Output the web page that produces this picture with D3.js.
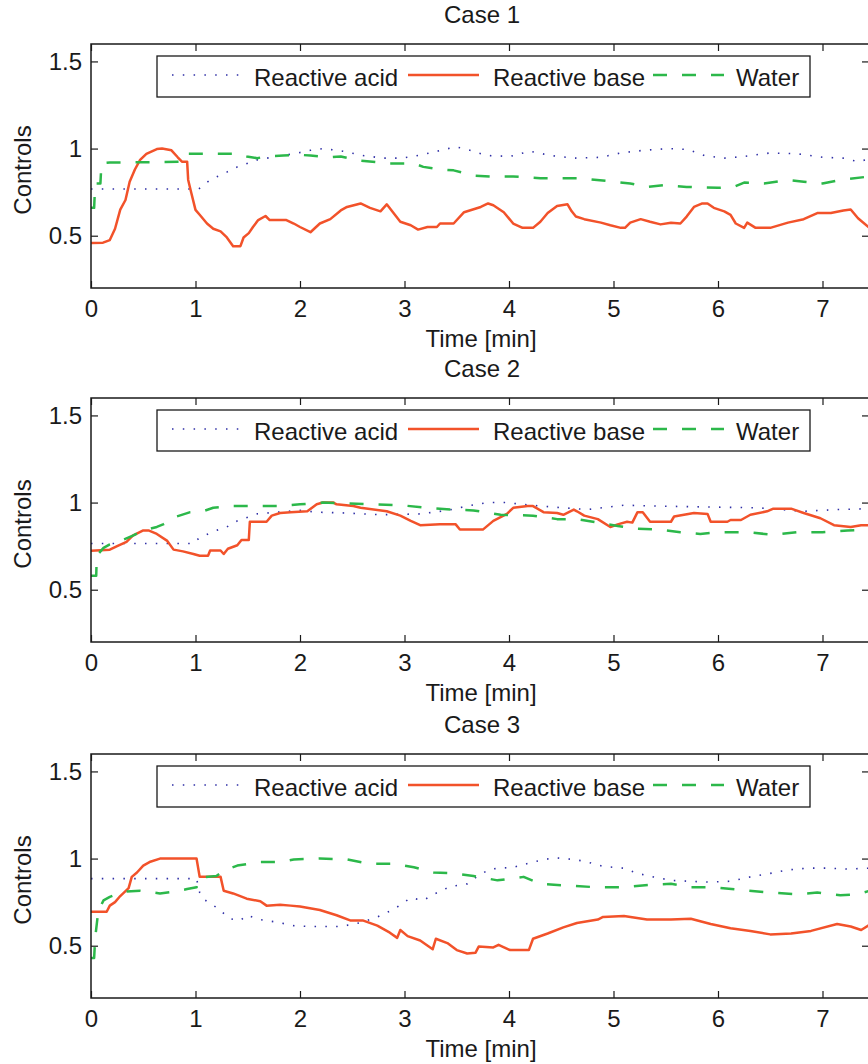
<!DOCTYPE html>
<html>
<head>
<meta charset="utf-8">
<script src="https://cdn.jsdelivr.net/npm/d3@7"></script>
<style>
  body { margin: 0; background: #fff; }
  svg { display: block; }
  text { font-family: "Liberation Sans", Arial, Helvetica, sans-serif; fill: #1a1a1a; }
</style>
</head>
<body>
<div id="chart"></div>
<script>
// ---- data ----
var caseNames = ["Case 1", "Case 2", "Case 3"];
var seriesNames = ["Reactive acid", "Reactive base", "Water"];
var xTicks = [0, 1, 2, 3, 4, 5, 6, 7];
var yTicks = [0.5, 1, 1.5];

// [time in min, control]
var case1Acid = [[0,0.768],[1.03,0.768],[1.14,0.82],[1.3,0.865],[1.4,0.895],[1.59,0.935],[1.78,0.955],[1.94,0.97],[2.1,0.99],[2.22,1.0],[2.41,0.985],[2.6,0.96],[2.8,0.945],[2.96,0.945],[3.09,0.955],[3.28,0.98],[3.49,1.01],[3.6,0.995],[3.79,0.96],[4.01,0.955],[4.2,0.985],[4.4,0.96],[4.62,0.945],[4.88,0.95],[5.07,0.975],[5.29,0.99],[5.52,1.0],[5.71,0.995],[5.87,0.96],[6.06,0.945],[6.25,0.955],[6.5,0.975],[6.76,0.97],[7.0,0.95],[7.2,0.945],[7.34,0.925],[7.45,0.94]];
var case1Base = [[0,0.458],[0.115,0.46],[0.18,0.475],[0.23,0.54],[0.28,0.65],[0.33,0.705],[0.37,0.81],[0.42,0.88],[0.47,0.935],[0.53,0.97],[0.63,0.997],[0.68,1.0],[0.77,0.99],[0.83,0.95],[0.87,0.925],[0.92,0.925],[0.93,0.82],[0.96,0.745],[1.0,0.648],[1.04,0.62],[1.11,0.57],[1.17,0.54],[1.24,0.525],[1.3,0.49],[1.36,0.44],[1.43,0.44],[1.46,0.49],[1.51,0.515],[1.55,0.55],[1.6,0.59],[1.67,0.613],[1.71,0.59],[1.87,0.59],[1.94,0.57],[2.0,0.55],[2.1,0.52],[2.19,0.57],[2.29,0.595],[2.39,0.645],[2.45,0.665],[2.58,0.685],[2.67,0.66],[2.77,0.64],[2.83,0.68],[2.96,0.58],[3.06,0.56],[3.13,0.535],[3.22,0.55],[3.31,0.55],[3.34,0.57],[3.47,0.57],[3.57,0.635],[3.73,0.665],[3.8,0.685],[3.85,0.675],[3.95,0.635],[4.04,0.57],[4.13,0.545],[4.23,0.545],[4.3,0.58],[4.37,0.63],[4.46,0.67],[4.56,0.68],[4.6,0.64],[4.64,0.61],[4.72,0.595],[4.88,0.575],[4.97,0.56],[5.07,0.545],[5.11,0.545],[5.16,0.575],[5.26,0.595],[5.35,0.58],[5.45,0.565],[5.55,0.575],[5.64,0.57],[5.7,0.61],[5.77,0.665],[5.85,0.685],[5.9,0.685],[5.96,0.66],[6.06,0.64],[6.12,0.62],[6.17,0.57],[6.25,0.545],[6.28,0.575],[6.36,0.545],[6.5,0.545],[6.67,0.575],[6.82,0.595],[6.95,0.63],[7.08,0.63],[7.2,0.645],[7.27,0.65],[7.34,0.6],[7.45,0.545]];
var case1Water = [[0,0.66],[0.03,0.66],[0.04,0.8],[0.09,0.8],[0.1,0.915],[0.18,0.92],[0.34,0.92],[0.88,0.925],[0.92,0.97],[1.43,0.97],[1.49,0.955],[1.59,0.945],[1.68,0.955],[1.84,0.96],[1.97,0.965],[2.1,0.96],[2.29,0.95],[2.39,0.955],[2.58,0.93],[2.86,0.915],[3.09,0.915],[3.18,0.895],[3.34,0.88],[3.47,0.875],[3.6,0.855],[3.66,0.845],[3.82,0.84],[4.04,0.84],[4.3,0.83],[4.68,0.83],[5.0,0.81],[5.16,0.8],[5.32,0.78],[5.48,0.79],[5.7,0.78],[6.0,0.775],[6.15,0.78],[6.25,0.805],[6.44,0.8],[6.67,0.82],[6.82,0.81],[7.0,0.8],[7.17,0.82],[7.45,0.84]];

var case2Acid = [[0,0.765],[0.98,0.765],[1.04,0.8],[1.2,0.84],[1.3,0.86],[1.4,0.895],[1.59,0.935],[1.78,0.945],[2.0,0.955],[2.16,0.945],[2.45,0.94],[2.77,0.93],[3.15,0.935],[3.41,0.955],[3.6,0.98],[3.79,1.0],[3.98,1.0],[4.2,0.985],[4.52,0.97],[4.75,0.96],[5.1,0.985],[5.42,0.98],[5.87,0.975],[6.38,0.97],[6.82,0.95],[7.14,0.96],[7.45,0.965]];
var case2Base = [[0,0.724],[0.18,0.73],[0.25,0.75],[0.34,0.775],[0.4,0.81],[0.5,0.84],[0.55,0.84],[0.63,0.82],[0.73,0.78],[0.79,0.73],[0.88,0.72],[0.98,0.705],[1.04,0.695],[1.12,0.695],[1.14,0.725],[1.24,0.725],[1.27,0.705],[1.31,0.735],[1.4,0.755],[1.44,0.785],[1.51,0.785],[1.52,0.89],[1.68,0.89],[1.73,0.925],[1.81,0.94],[1.91,0.945],[2.07,0.95],[2.16,0.99],[2.22,1.0],[2.32,1.0],[2.35,0.99],[2.51,0.98],[2.58,0.97],[2.83,0.95],[2.96,0.925],[3.06,0.895],[3.15,0.87],[3.34,0.875],[3.49,0.875],[3.53,0.845],[3.75,0.845],[3.85,0.895],[3.98,0.935],[4.04,0.97],[4.18,0.98],[4.23,0.98],[4.33,0.945],[4.46,0.94],[4.52,0.93],[4.62,0.96],[4.65,0.95],[4.72,0.925],[4.85,0.905],[4.97,0.86],[5.04,0.875],[5.13,0.89],[5.18,0.885],[5.23,0.945],[5.28,0.945],[5.35,0.89],[5.55,0.89],[5.58,0.92],[5.77,0.94],[5.9,0.935],[5.93,0.89],[6.09,0.89],[6.12,0.9],[6.22,0.9],[6.31,0.93],[6.47,0.95],[6.53,0.965],[6.7,0.965],[6.82,0.94],[6.98,0.91],[7.11,0.87],[7.27,0.86],[7.37,0.87],[7.45,0.87]];
var case2Water = [[0,0.58],[0.05,0.58],[0.055,0.695],[0.12,0.74],[0.18,0.76],[0.28,0.78],[0.4,0.81],[0.5,0.84],[0.63,0.86],[0.69,0.875],[0.82,0.92],[0.95,0.945],[1.07,0.95],[1.17,0.97],[1.36,0.98],[1.78,0.98],[2.0,0.99],[2.22,1.0],[2.45,0.995],[2.7,0.99],[2.96,0.985],[3.22,0.97],[3.44,0.96],[3.66,0.955],[3.92,0.93],[4.23,0.925],[4.46,0.905],[4.65,0.905],[4.9,0.88],[5.04,0.865],[5.23,0.85],[5.45,0.845],[5.64,0.83],[5.83,0.82],[6.02,0.83],[6.28,0.83],[6.53,0.815],[6.76,0.83],[7.0,0.83],[7.24,0.84],[7.45,0.845]];

var case3Acid = [[0,0.885],[1.01,0.885],[1.04,0.805],[1.07,0.77],[1.2,0.72],[1.33,0.655],[1.43,0.645],[1.49,0.675],[1.62,0.65],[1.78,0.635],[1.94,0.615],[2.1,0.61],[2.39,0.61],[2.58,0.632],[2.74,0.665],[2.9,0.71],[3.06,0.775],[3.18,0.76],[3.28,0.795],[3.44,0.84],[3.6,0.855],[3.7,0.9],[3.82,0.94],[4.04,0.95],[4.23,0.98],[4.43,1.005],[4.62,0.995],[4.72,0.985],[4.9,0.955],[5.1,0.945],[5.23,0.915],[5.38,0.895],[5.55,0.875],[5.71,0.87],[5.93,0.865],[6.12,0.87],[6.31,0.895],[6.5,0.915],[6.67,0.935],[6.86,0.945],[7.05,0.945],[7.24,0.94],[7.45,0.945]];
var case3Base = [[0,0.695],[0.15,0.695],[0.18,0.73],[0.23,0.75],[0.28,0.785],[0.36,0.83],[0.39,0.895],[0.44,0.92],[0.5,0.96],[0.56,0.98],[0.66,1.0],[1.01,1.0],[1.04,0.895],[1.24,0.895],[1.27,0.815],[1.36,0.8],[1.49,0.77],[1.62,0.755],[1.68,0.73],[1.81,0.735],[1.91,0.73],[2.0,0.725],[2.19,0.705],[2.35,0.675],[2.48,0.645],[2.6,0.645],[2.74,0.615],[2.86,0.575],[2.93,0.545],[2.96,0.59],[3.03,0.555],[3.15,0.53],[3.27,0.48],[3.3,0.54],[3.41,0.515],[3.5,0.475],[3.6,0.455],[3.68,0.46],[3.71,0.495],[3.85,0.49],[3.9,0.505],[4.01,0.475],[4.19,0.475],[4.23,0.54],[4.37,0.57],[4.52,0.605],[4.65,0.63],[4.85,0.65],[4.9,0.665],[5.1,0.67],[5.32,0.65],[5.55,0.65],[5.74,0.655],[5.93,0.625],[6.12,0.6],[6.31,0.585],[6.5,0.565],[6.7,0.57],[6.89,0.585],[7.14,0.625],[7.27,0.61],[7.37,0.59],[7.45,0.62]];
var case3Water = [[0,0.43],[0.03,0.43],[0.04,0.545],[0.07,0.7],[0.12,0.76],[0.18,0.78],[0.31,0.81],[0.47,0.815],[0.6,0.805],[0.66,0.8],[0.79,0.81],[0.92,0.825],[1.01,0.835],[1.04,0.89],[1.2,0.9],[1.27,0.93],[1.4,0.96],[1.62,0.98],[1.81,0.98],[1.94,0.995],[2.19,1.0],[2.45,0.995],[2.67,0.97],[2.9,0.97],[3.09,0.95],[3.28,0.92],[3.47,0.915],[3.66,0.9],[3.89,0.875],[4.14,0.895],[4.3,0.855],[4.56,0.845],[4.85,0.835],[5.07,0.835],[5.35,0.85],[5.55,0.855],[5.74,0.835],[5.96,0.835],[6.22,0.82],[6.5,0.805],[6.76,0.795],[6.95,0.805],[7.17,0.79],[7.34,0.795],[7.45,0.815]];

var caseData = [
  [case1Acid, case1Base, case1Water],
  [case2Acid, case2Base, case2Water],
  [case3Acid, case3Base, case3Water]
];

// ---- layout / style ----
var W = 868, H = 1064;
var left = 91, right = 869;
var tops = [44, 398, 754], ph = 244;
var fs = 24;
var styles = [
  {color: "#2e2ea6", width: 1.6, dash: "1.5,9.3"},
  {color: "#f2522a", width: 2.5, dash: null},
  {color: "#2cb84a", width: 2.5, dash: "14,15"}
];

var svg = d3.select("#chart").append("svg")
  .attr("width", W)
  .attr("height", H);

var x = d3.scaleLinear().domain([0, 7.445]).range([left, right]);

caseNames.forEach(function(name, i) {
  var top = tops[i], bottom = top + ph;
  var y = d3.scaleLinear().domain([0.2, 1.6]).range([bottom, top]);
  var g = svg.append("g");

  // data lines
  var line = d3.line()
    .x(function(d) { return x(d[0]); })
    .y(function(d) { return y(d[1]); });

  caseData[i].forEach(function(ser, j) {
    g.append("path")
      .datum(ser)
      .attr("fill", "none")
      .attr("stroke", styles[j].color)
      .attr("stroke-width", styles[j].width)
      .attr("stroke-dasharray", styles[j].dash)
      .attr("stroke-linejoin", "round")
      .attr("d", line);
  });

  // axes, ticks pointing inward
  var xb = g.append("g").attr("transform", "translate(0," + bottom + ")")
    .call(d3.axisBottom(x).tickValues(xTicks).tickFormat(d3.format("d")).tickSize(-7).tickSizeOuter(0).tickPadding(12));
  var xt = g.append("g").attr("transform", "translate(0," + top + ")")
    .call(d3.axisTop(x).tickValues(xTicks).tickFormat("").tickSize(-7).tickSizeOuter(0));
  var yl = g.append("g").attr("transform", "translate(" + left + ",0)")
    .call(d3.axisLeft(y).tickValues(yTicks).tickFormat(d3.format("")).tickSize(-7).tickSizeOuter(0).tickPadding(9));
  var yr = g.append("g").attr("transform", "translate(" + right + ",0)")
    .call(d3.axisRight(y).tickValues(yTicks).tickFormat("").tickSize(-7).tickSizeOuter(0));

  [xb, xt, yl, yr].forEach(function(a) {
    a.select(".domain").remove();
    a.selectAll(".tick line").attr("stroke", "#1a1a1a").attr("stroke-width", 1.2);
    a.selectAll(".tick text").style("font-size", fs + "px").attr("fill", "#1a1a1a")
      .style("font-family", "'Liberation Sans', Arial, sans-serif");
  });

  g.append("rect")
    .attr("x", left).attr("y", top)
    .attr("width", right - left).attr("height", ph)
    .attr("fill", "none").attr("stroke", "#1a1a1a").attr("stroke-width", 1.5);

  // legend
  var lg = g.append("g");
  lg.append("rect")
    .attr("x", 157).attr("y", top + 12)
    .attr("width", 653).attr("height", 41)
    .attr("fill", "#fff").attr("stroke", "#1a1a1a").attr("stroke-width", 1.3);
  var sampleX = [172, 408, 653], textX = [254, 493, 736];
  seriesNames.forEach(function(s, j) {
    lg.append("line")
      .attr("x1", sampleX[j]).attr("x2", sampleX[j] + 71)
      .attr("y1", top + 31).attr("y2", top + 31)
      .attr("stroke", styles[j].color)
      .attr("stroke-width", styles[j].width)
      .attr("stroke-dasharray", styles[j].dash);
    lg.append("text")
      .attr("x", textX[j]).attr("y", top + 42)
      .style("font-size", fs + "px")
      .text(s);
  });

  // titles
  g.append("text")
    .attr("x", 482).attr("y", top - 21)
    .attr("text-anchor", "middle")
    .style("font-size", fs + "px")
    .text(name);
  g.append("text")
    .attr("x", 481).attr("y", bottom + 59)
    .attr("text-anchor", "middle")
    .style("font-size", fs + "px")
    .text("Time [min]");
  g.append("text")
    .attr("transform", "translate(31," + (top + 126) + ") rotate(-90)")
    .attr("text-anchor", "middle")
    .style("font-size", fs + "px")
    .text("Controls");
});
</script>
</body>
</html>
